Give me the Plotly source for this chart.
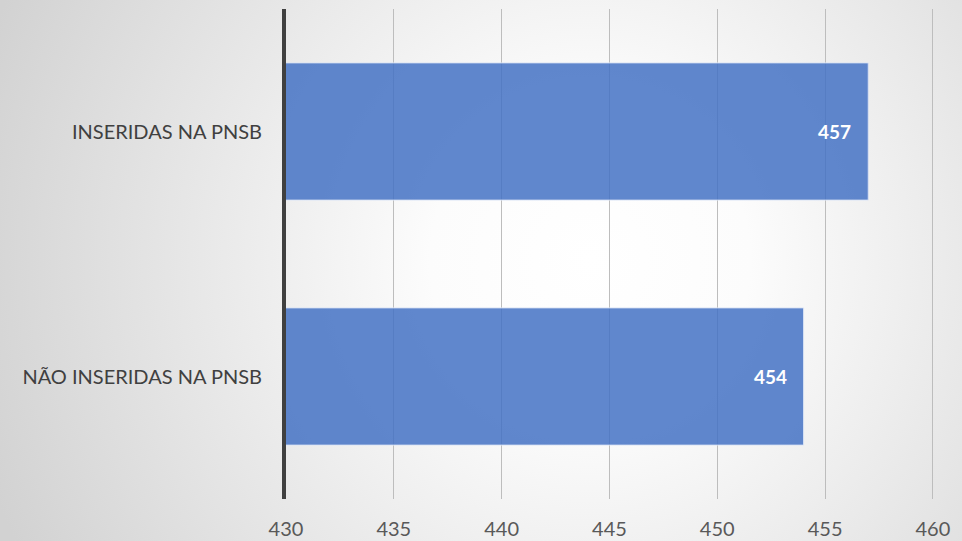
import plotly.graph_objects as go
import base64

categories = ["NÃO INSERIDAS NA PNSB", "INSERIDAS NA PNSB"]
values = [454, 457]
tick_vals = [430, 435, 440, 445, 450, 455, 460]

W, H = 962, 541
ML, MR, MT, MB = 286, 28, 9, 42
pw, ph = W - ML - MR, H - MT - MB

svg = f'''<svg xmlns="http://www.w3.org/2000/svg" width="{W}" height="{H}">
<defs><radialGradient id="g" gradientUnits="userSpaceOnUse" cx="590" cy="260" r="640">
<stop offset="0" stop-color="#ffffff"/><stop offset="0.25" stop-color="#fcfcfc"/><stop offset="1" stop-color="#d2d2d2"/>
</radialGradient></defs><rect width="{W}" height="{H}" fill="url(#g)"/></svg>'''
src = "data:image/svg+xml;base64," + base64.b64encode(svg.encode()).decode()

fig = go.Figure()
fig.add_trace(go.Bar(
    y=categories, x=values, orientation="h",
    marker=dict(color="rgba(68,114,196,0.85)", line=dict(color="rgba(220,228,245,0.9)", width=1)),
    width=0.56, hoverinfo="skip",
))
for c, v in zip(categories, values):
    fig.add_annotation(x=v, y=c, text=f"<b>{v}</b>", showarrow=False, xanchor="right",
                       xshift=-15, font=dict(family="Lato, Open Sans, sans-serif", size=19, color="white"))

fig.update_layout(
    width=W, height=H,
    margin=dict(l=ML, r=MR, t=MT, b=MB, autoexpand=False),
    paper_bgcolor="#e6e6e6", plot_bgcolor="rgba(0,0,0,0)",
    showlegend=False,
    images=[dict(source=src, xref="paper", yref="paper", x=-ML / pw, y=1 + MT / ph,
                 sizex=W / pw, sizey=H / ph, sizing="stretch", xanchor="left", yanchor="top", layer="below")],
    xaxis=dict(range=[430, 460.05], tickvals=tick_vals, showgrid=True, gridcolor="#bdbdbd", gridwidth=1,
               zeroline=False, showline=False, ticks="outside", ticklen=12, tickcolor="rgba(0,0,0,0)",
               automargin=False,
               tickfont=dict(family="Lato, Open Sans, sans-serif", size=20, color="#595959")),
    yaxis=dict(showgrid=False, zeroline=False, showline=True, linecolor="#404040", linewidth=4,
               ticks="outside", ticklen=16, tickcolor="rgba(0,0,0,0)", range=[-0.5, 1.5],
               automargin=False,
               tickfont=dict(family="Lato, Open Sans, sans-serif", size=20, color="#404040")),
)
fig.write_html("out.html", config={"displayModeBar": False},
               post_script="document.body.style.margin='0';document.body.style.overflow='hidden';")
